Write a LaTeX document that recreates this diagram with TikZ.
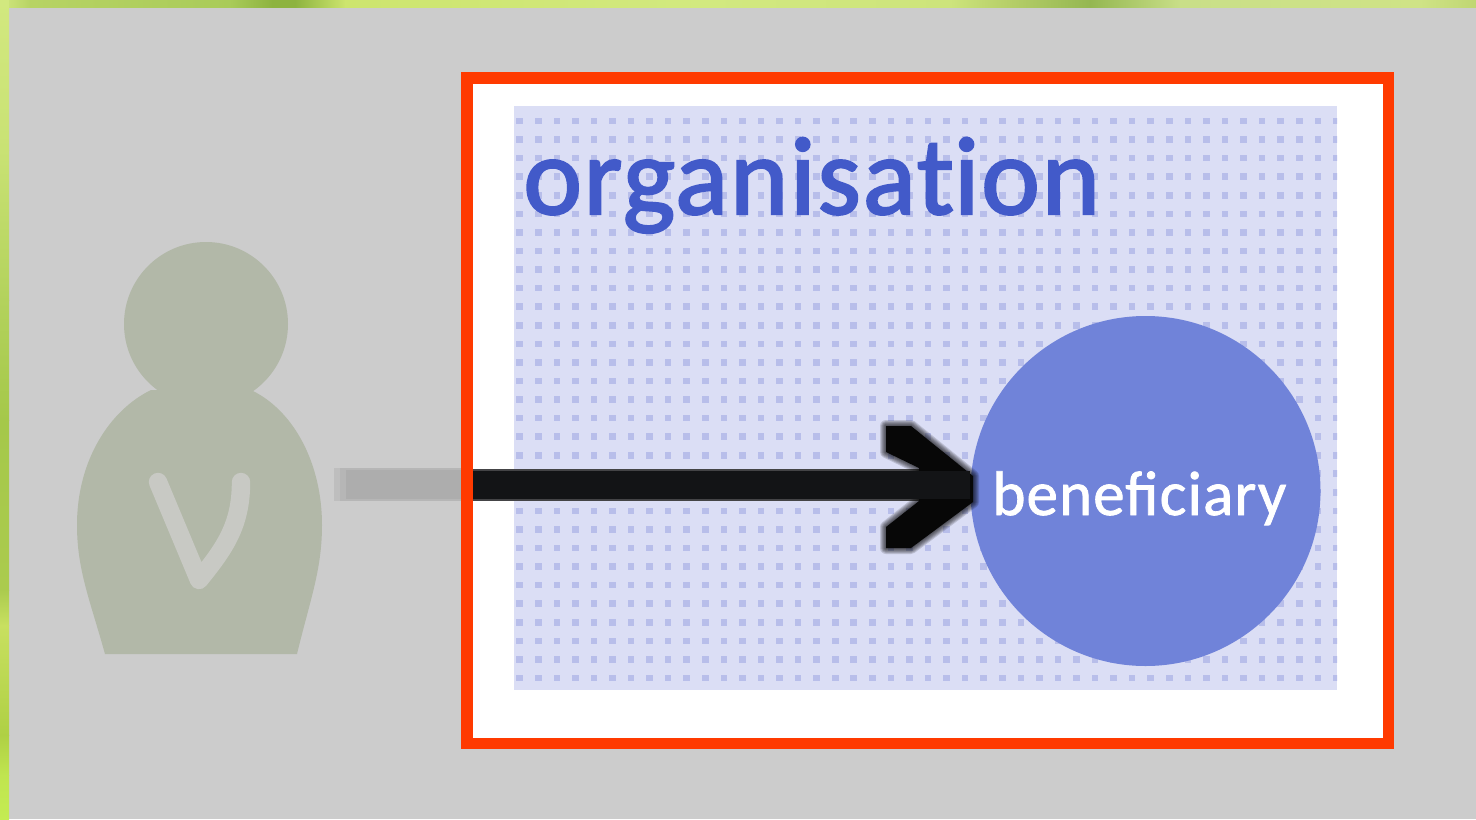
\documentclass[tikz,border=0pt]{standalone}
\usepackage{fontspec}
\setmainfont{Carlito}
\newfontfamily\orgfont[LetterSpace=1.7,FakeBold=2]{Carlito}
\newfontfamily\benfont[LetterSpace=1.8,FakeBold=1.2]{Carlito}
\definecolor{bggrey}{HTML}{CCCCCC}
\definecolor{redline}{HTML}{FF3A00}
\definecolor{panelbg}{HTML}{DBDEF5}
\definecolor{paneldot}{HTML}{B8BEEA}
\definecolor{orgblue}{HTML}{425AC9}
\definecolor{circleblue}{HTML}{7083D9}
\definecolor{personc}{HTML}{B2B8A8}
\definecolor{vee}{HTML}{C8C9C4}
\definecolor{greybar}{HTML}{ADADAD}
\definecolor{greybarb}{HTML}{B6B6B6}
\definecolor{greybarc}{HTML}{BEBEBE}
\definecolor{blackbar}{HTML}{131416}
\definecolor{blackhead}{HTML}{070707}
\definecolor{barb}{HTML}{444446}
\newcommand{\hstripe}[4]{\definecolor{sa}{HTML}{#3}\definecolor{sb}{HTML}{#4}\shade[left color=sa,right color=sb,shading angle=90] (#1,0) rectangle (#2+0.6,7.5);}
\newcommand{\vstripe}[4]{\definecolor{sa}{HTML}{#3}\definecolor{sb}{HTML}{#4}\shade[top color=sa,bottom color=sb] (0,#1) rectangle (9.2,#2+0.6);}
\tikzset{
  x=0.5pt,y=-0.5pt,
  orgtext/.style={text=orgblue,font=\orgfont\fontsize{55.5}{55.5}\selectfont,inner sep=0,anchor=base west},
  bencircle/.style={circle,fill=circleblue,draw=none,minimum size=175pt,inner sep=0},
  bentext/.style={text=white,font=\benfont\fontsize{31.5}{31.5}\selectfont,inner sep=0,anchor=base west},
  headc/.style={circle,fill=personc,draw=none,minimum size=82pt,inner sep=0},
  barline/.style={line width=14pt,blackbar},
}
\begin{document}
\begin{tikzpicture}
\useasboundingbox (0,0) rectangle (1476,819);
\fill[bggrey] (0,0) rectangle (1476,819);
% green edge
\hstripe{0}{30}{D2E87F}{B7D364}
\hstripe{30}{230}{B7D364}{A9CB59}
\hstripe{230}{272}{A9CB59}{8DB33F}
\hstripe{272}{295}{8DB33F}{8DB33F}
\hstripe{295}{345}{8DB33F}{CDE56E}
\hstripe{345}{700}{CDE56E}{D2E97F}
\hstripe{700}{950}{D2E97F}{CDE47C}
\hstripe{950}{1010}{CDE47C}{B5CE68}
\hstripe{1010}{1090}{B5CE68}{94B751}
\hstripe{1090}{1180}{94B751}{C9DF88}
\hstripe{1180}{1420}{C9DF88}{CFE386}
\hstripe{1420}{1476}{CFE386}{BFD672}
\vstripe{0}{150}{D2E87F}{C9E274}
\vstripe{150}{300}{C9E274}{B3D25C}
\vstripe{300}{420}{B3D25C}{A5C84A}
\vstripe{420}{590}{A5C84A}{ABCB4E}
\vstripe{590}{625}{ABCB4E}{C8E060}
\vstripe{625}{735}{C8E060}{AFD044}
\vstripe{735}{775}{AFD044}{C0E54F}
\vstripe{775}{819}{C0E54F}{C4EC52}
% organisation box
\fill[white] (467,78) rectangle (1388,744);
\fill[panelbg] (514,106) rectangle (1337,690);
\begin{scope}
\clip (514,106) rectangle (1337,690);
\foreach \i in {0,...,44}{
  \foreach \j in {0,...,30}{
    \pgfmathsetmacro{\dx}{519.7+18.56*\i}
    \pgfmathsetmacro{\dy}{121+18.567*\j}
    \fill[paneldot] (\dx-3.3,\dy-3.3) rectangle (\dx+3.3,\dy+3.3);
  }
}
\end{scope}
\node[orgtext] (org) at (523,214) {organisat\kern0pt ion};
\node[bencircle] (ben) at (1145.5,491) {};
\node[bentext] (bentxt) at (992,515) {beneficiary};
% person
\node[headc] (person) at (206,324) {};
\fill[personc]
  (105,654) .. controls (90,600) and (77,570) .. (77,525)
  .. controls (77,460) and (110,410) .. (151,390)
  -- (253,391)
  .. controls (295,412) and (322,465) .. (322,525)
  .. controls (322,570) and (310,600) .. (297,654)
  -- cycle;
\draw[vee,line width=9.2pt,line cap=round,line join=round]
  (158,482) -- (199,580) .. controls (225,548) and (241,525) .. (241,482);
% connector
\coordinate (barstart) at (334,484.5);
\coordinate (boxleft) at (467,484.5);
\draw[greybarc,line width=16.5pt] (barstart) -- (boxleft);
\draw[greybarb,line width=16.5pt] (340,484.5) -- (boxleft);
\draw[greybar,line width=14.5pt] (346,484.5) -- (boxleft);
\draw[barb,line width=16pt] (boxleft) -- (950,484.5);
\draw[barline] (boxleft) -- (960,484.5);
% blurred chevron head
\foreach \w in {6,5,4,3,2,1}{
  \draw[black,line width=\w pt,opacity=0.14,line join=round] (886,426) -- (911,426) -- (973,476) -- (973,502) -- (911,548) -- (886,548) -- (886,527) -- (919,501) -- (919,468) -- (886,452) -- cycle;
}
\fill[blackhead] (886,426) -- (911,426) -- (973,476) -- (973,502) -- (911,548) -- (886,548) -- (886,527) -- (919,501) -- (919,468) -- (886,452) -- cycle;
\draw[barline] (boxleft) -- (ben.west |- boxleft);
% red frame
\draw[redline,line width=5.8pt] (467,78) rectangle (1388.5,743.5);
\end{tikzpicture}
\end{document}
